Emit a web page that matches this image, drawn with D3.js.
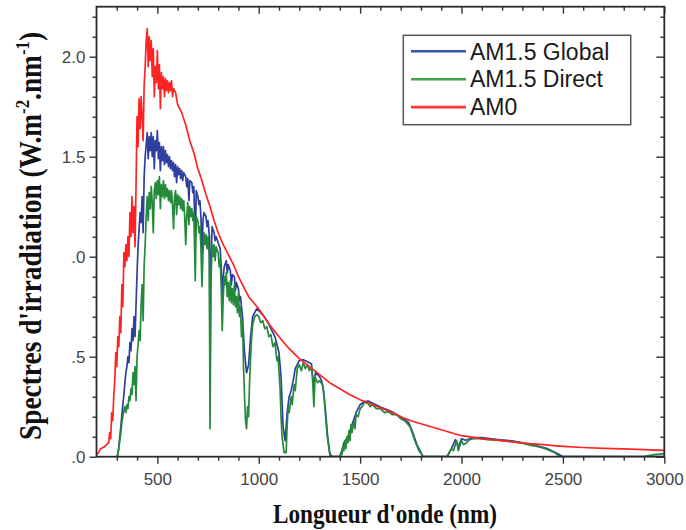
<!DOCTYPE html>
<html>
<head>
<meta charset="utf-8">
<script src="https://cdn.jsdelivr.net/npm/d3@7/dist/d3.min.js"></script>
<style>
  body { margin: 0; background: #fff; }
  svg { display: block; }
</style>
</head>
<body>
<div id="chart"></div>
<script>
// [wavelength nm, irradiance W.m-2.nm-1]
const am15Global = [
  [300,0],[305,0.01],[310,0.05],[315,0.1],[320,0.15],[325,0.21],[330,0.26],[335,0.31],[340,0.37],[345,0.42],
  [350,0.45],[355,0.5],[360,0.47],[365,0.57],[370,0.53],[375,0.64],[380,0.58],[385,0.7],[390,0.6],[395,0.76],
  [400,0.92],[405,1.05],[410,1.14],[415,1.22],[420,1.17],[425,1.3],[430,1.12],[435,1.4],[440,1.5],[445,1.56],
  [450,1.62],[455,1.49],[460,1.6],[465,1.53],[470,1.62],[475,1.5],[480,1.6],[485,1.44],[490,1.58],[495,1.53],
  [500,1.63],[505,1.49],[510,1.57],[515,1.43],[520,1.55],[525,1.48],[530,1.55],[535,1.46],[540,1.53],[545,1.47],
  [550,1.51],[555,1.45],[560,1.5],[565,1.44],[570,1.48],[575,1.43],[580,1.47],[585,1.4],[590,1.46],[595,1.37],
  [600,1.45],[605,1.41],[610,1.44],[615,1.39],[620,1.43],[625,1.38],[630,1.42],[640,1.4],[645,1.35],[650,1.39],
  [656,1.28],[660,1.38],[670,1.37],[675,1.32],[680,1.35],[687,1.08],[692,1.33],[700,1.3],[705,1.26],[710,1.28],
  [715,1.2],[720,1.0],[725,1.18],[730,1.22],[740,1.2],[745,1.15],[750,1.18],[757,1.1],[760,0.4],[764,0.95],
  [770,1.15],[780,1.12],[785,1.08],[790,1.1],[800,1.07],[810,1.04],[815,0.95],[820,0.8],[825,0.9],[830,0.95],
  [840,0.98],[845,0.92],[850,0.96],[860,0.93],[865,0.86],[870,0.91],[880,0.9],[885,0.83],[890,0.87],[900,0.84],
  [905,0.78],[910,0.8],[920,0.7],[930,0.52],[940,0.42],[950,0.46],[960,0.6],[970,0.7],[980,0.72],[990,0.74],
  [1000,0.73],[1020,0.71],[1040,0.68],[1060,0.64],[1080,0.6],[1100,0.52],[1110,0.4],[1120,0.15],[1130,0.08],[1140,0.22],
  [1150,0.3],[1160,0.33],[1170,0.38],[1180,0.44],[1190,0.46],[1200,0.48],[1220,0.485],[1240,0.475],[1260,0.465],[1270,0.35],
  [1280,0.42],[1290,0.41],[1300,0.4],[1310,0.38],[1320,0.33],[1330,0.22],[1340,0.1],[1350,0.02],[1360,0],[1400,0],
  [1410,0.03],[1420,0.07],[1440,0.1],[1460,0.16],[1480,0.22],[1500,0.26],[1520,0.275],[1540,0.278],[1560,0.268],[1600,0.248],
  [1650,0.228],[1700,0.2],[1740,0.17],[1760,0.12],[1780,0.06],[1800,0.02],[1810,0],[1930,0],[1950,0.04],[1970,0.085],
  [1985,0.05],[2000,0.09],[2020,0.082],[2060,0.096],[2100,0.095],[2180,0.086],[2250,0.079],[2340,0.062],[2420,0.042],[2480,0.012],
  [2500,0],[3000,0]
];

const am15Direct = [
  [300,0],[305,0.01],[310,0.04],[315,0.08],[320,0.12],[325,0.17],[330,0.2],[335,0.23],[340,0.25],[345,0.22],
  [350,0.26],[355,0.24],[360,0.3],[365,0.28],[370,0.34],[375,0.31],[380,0.42],[385,0.36],[390,0.45],[395,0.28],
  [400,0.5],[405,0.56],[410,0.63],[415,0.58],[420,0.76],[425,0.86],[430,0.68],[435,0.96],[440,1.06],[445,1.2],
  [450,1.3],[455,1.18],[460,1.32],[465,1.24],[470,1.35],[475,1.27],[480,1.12],[485,1.33],[490,1.37],[495,1.29],
  [500,1.38],[505,1.31],[510,1.4],[515,1.24],[520,1.36],[525,1.3],[530,1.38],[535,1.29],[540,1.36],[545,1.3],
  [550,1.34],[555,1.28],[560,1.33],[565,1.27],[570,1.33],[575,1.26],[580,1.14],[585,1.3],[590,1.33],[595,1.21],
  [600,1.31],[605,1.26],[610,1.3],[615,1.24],[620,1.29],[625,1.23],[630,1.28],[635,1.2],[640,1.06],[645,1.2],
  [650,1.27],[656,1.16],[660,1.25],[665,1.2],[670,1.24],[675,1.18],[680,1.22],[687,0.88],[692,1.2],[700,1.18],
  [705,1.12],[710,1.15],[715,1.05],[720,0.85],[725,1.02],[730,1.12],[735,1.06],[740,1.11],[745,1.04],[750,1.1],
  [756,1.0],[760,0.14],[764,0.85],[770,1.06],[775,1.0],[780,1.06],[785,0.98],[790,1.05],[800,1.02],[805,0.95],
  [810,0.99],[815,0.85],[820,0.63],[825,0.8],[830,0.9],[835,0.86],[840,0.92],[845,0.8],[850,0.87],[855,0.78],
  [860,0.88],[865,0.77],[870,0.84],[875,0.76],[880,0.86],[885,0.75],[890,0.8],[895,0.72],[900,0.82],[905,0.7],
  [910,0.75],[915,0.6],[920,0.68],[925,0.45],[930,0.3],[935,0.18],[940,0.14],[945,0.25],[950,0.2],[955,0.38],
  [960,0.5],[965,0.6],[970,0.66],[980,0.7],[990,0.71],[1000,0.7],[1010,0.67],[1020,0.68],[1030,0.64],[1040,0.65],
  [1050,0.6],[1060,0.61],[1070,0.55],[1080,0.57],[1090,0.48],[1095,0.5],[1105,0.35],[1110,0.2],[1115,0.1],[1125,0.02],
  [1135,0.02],[1140,0.15],[1145,0.25],[1150,0.22],[1160,0.3],[1165,0.26],[1175,0.36],[1180,0.33],[1190,0.44],[1200,0.46],
  [1210,0.43],[1220,0.47],[1230,0.44],[1240,0.46],[1250,0.43],[1260,0.45],[1265,0.4],[1272,0.25],[1278,0.4],[1290,0.37],
  [1300,0.38],[1315,0.36],[1322,0.3],[1330,0.2],[1338,0.1],[1345,0.05],[1352,0],[1400,0],[1405,0.02],[1410,0.01],
  [1415,0.05],[1420,0.03],[1425,0.08],[1430,0.04],[1435,0.1],[1440,0.07],[1445,0.13],[1450,0.08],[1455,0.16],[1460,0.12],
  [1470,0.18],[1475,0.14],[1480,0.21],[1490,0.2],[1500,0.24],[1510,0.25],[1520,0.27],[1530,0.27],[1540,0.265],[1550,0.25],
  [1560,0.26],[1580,0.24],[1600,0.24],[1620,0.22],[1640,0.225],[1660,0.21],[1680,0.21],[1700,0.19],[1720,0.18],[1746,0.15],
  [1760,0.11],[1770,0.08],[1790,0.03],[1812,0],[1927,0],[1950,0.04],[1960,0.03],[1976,0.08],[1984,0.03],[2000,0.08],
  [2010,0.06],[2025,0.07],[2040,0.085],[2058,0.09],[2091,0.09],[2130,0.085],[2173,0.083],[2255,0.075],[2300,0.068],[2337,0.058],
  [2380,0.05],[2420,0.037],[2460,0.02],[2486,0],[2900,0],[2950,0.01],[3000,0.015]
];

const am0 = [
  [200,0.01],[210,0.02],[220,0.04],[230,0.045],[240,0.05],[250,0.06],[260,0.07],[265,0.12],[270,0.09],[275,0.22],
  [280,0.18],[285,0.3],[290,0.38],[295,0.52],[300,0.45],[305,0.6],[310,0.55],[315,0.7],[320,0.62],[325,0.86],
  [330,0.75],[335,1.02],[340,0.95],[345,1.06],[350,0.98],[355,1.1],[360,1.0],[365,1.22],[370,1.1],[375,1.3],
  [380,1.12],[385,1.25],[390,1.05],[395,1.36],[400,1.7],[405,1.55],[410,1.79],[415,1.64],[420,1.8],[425,1.7],
  [430,1.58],[435,1.86],[440,1.95],[445,2.08],[450,2.14],[455,1.95],[460,2.1],[465,1.98],[470,2.08],[475,1.9],
  [480,2.04],[485,1.8],[490,1.95],[495,1.87],[500,2.03],[505,1.84],[510,1.96],[515,1.74],[520,1.92],[525,1.84],
  [530,1.9],[535,1.8],[540,1.89],[545,1.83],[550,1.88],[555,1.82],[560,1.87],[565,1.83],[570,1.88],[575,1.8],
  [580,1.84],[590,1.82],[600,1.76],[610,1.74],[620,1.72],[640,1.66],[660,1.58],[680,1.52],[700,1.44],[720,1.38],
  [740,1.31],[760,1.25],[780,1.18],[800,1.12],[820,1.07],[840,1.03],[860,0.99],[880,0.95],[900,0.9],[925,0.85],
  [950,0.8],[975,0.77],[1000,0.74],[1050,0.665],[1100,0.6],[1150,0.54],[1200,0.49],[1250,0.45],[1300,0.41],[1350,0.37],
  [1400,0.34],[1450,0.31],[1500,0.285],[1550,0.265],[1600,0.245],[1650,0.225],[1700,0.2],[1750,0.18],[1800,0.165],[1900,0.135],
  [2000,0.105],[2100,0.09],[2200,0.08],[2300,0.068],[2400,0.06],[2500,0.052],[2600,0.046],[2700,0.042],[2800,0.039],[2900,0.035],
  [3000,0.032]
];

const seriesNames = ['AM1.5 Global', 'AM1.5 Direct', 'AM0'];
const xTickValues = [500, 1000, 1500, 2000, 2500, 3000];
const yTickValues = [0, 0.5, 1, 1.5, 2];
// the left part of the lower labels is cut off in the picture
const yTickLabels = ['.0', '.5', '.0', '1.5', '2.0'];

/**
 * layout and styles
 */
const config = {
  width: 686,
  height: 530,
  left: 96.5,
  right: 664.3,
  top: 6.7,
  bottom: 456.7,
  colors: ['#2f3f9f', '#24893a', '#ff2424'],
  legend_colors: ['#3a52b2', '#3ea64b', '#ff3434'],
  stroke_width: 1.7,
  tick_font: '17px "Liberation Sans", Arial, sans-serif',
  title_font: 'bold 27px "Liberation Serif", "Times New Roman", serif'
};

const svg = d3.select('#chart').append('svg')
  .attr('width', config.width)
  .attr('height', config.height);

const x = d3.scaleLinear().domain([200, 3000]).range([config.left, config.right]);
const y = d3.scaleLinear().domain([0, 2.25]).range([config.bottom, config.top]);

svg.append('clipPath').attr('id', 'plot-clip')
  .append('rect')
  .attr('x', config.left).attr('y', config.top)
  .attr('width', config.right - config.left)
  .attr('height', config.bottom - config.top);

// spectra, drawn in legend order so AM0 ends on top
const line = d3.line()
  .x(d => x(d[0]))
  .y(d => y(d[1]));

const plot = svg.append('g').attr('clip-path', 'url(#plot-clip)');
[am15Global, am15Direct, am0].forEach((data, i) => {
  plot.append('path')
    .datum(data)
    .attr('fill', 'none')
    .attr('stroke', config.colors[i])
    .attr('stroke-width', config.stroke_width)
    .attr('stroke-linejoin', 'round')
    .attr('d', line);
});

// minor ticks between the labelled ones
const xMinor = d3.range(300, 3000, 100).filter(v => v % 500 !== 0);
const yMinor = d3.range(1, 23).map(v => v / 10).filter(v => Math.round(v * 10) % 5 !== 0);

function tickAxis(g, axis) {
  g.call(axis);
  g.select('.domain').remove();
  g.selectAll('.tick line').attr('stroke', '#333').attr('stroke-width', 1.4);
  return g;
}

const bottom = tickAxis(svg.append('g').attr('transform', `translate(0,${config.bottom})`),
  d3.axisBottom(x).tickValues(xTickValues).tickSize(7).tickFormat(d3.format('d')));
bottom.selectAll('text')
  .attr('y', 28).attr('dy', 0)
  .style('font', config.tick_font).attr('fill', '#444');
tickAxis(svg.append('g').attr('transform', `translate(0,${config.bottom})`),
  d3.axisBottom(x).tickValues(xMinor).tickSize(4).tickFormat(''));

// top edge: same ticks, hanging into the plot
tickAxis(svg.append('g').attr('transform', `translate(0,${config.top})`),
  d3.axisBottom(x).tickValues(xTickValues).tickSize(7).tickFormat(''));
tickAxis(svg.append('g').attr('transform', `translate(0,${config.top})`),
  d3.axisBottom(x).tickValues(xMinor).tickSize(4).tickFormat(''));

const left = tickAxis(svg.append('g').attr('transform', `translate(${config.left},0)`),
  d3.axisLeft(y).tickValues(yTickValues).tickSize(7).tickFormat((d, i) => yTickLabels[i]));
left.selectAll('text')
  .attr('x', -11)
  .style('font', config.tick_font).attr('fill', '#444');
tickAxis(svg.append('g').attr('transform', `translate(${config.left},0)`),
  d3.axisLeft(y).tickValues(yMinor).tickSize(4).tickFormat(''));

// right edge: ticks pointing into the plot
tickAxis(svg.append('g').attr('transform', `translate(${config.right},0)`),
  d3.axisLeft(y).tickValues(yTickValues).tickSize(8).tickFormat(''));
tickAxis(svg.append('g').attr('transform', `translate(${config.right},0)`),
  d3.axisLeft(y).tickValues(yMinor).tickSize(4).tickFormat(''));

// frame
svg.append('rect')
  .attr('x', config.left).attr('y', config.top)
  .attr('width', config.right - config.left)
  .attr('height', config.bottom - config.top)
  .attr('fill', 'none')
  .attr('stroke', '#2a2a2a')
  .attr('stroke-width', 1.8);

// axis titles
svg.append('text')
  .attr('x', 385).attr('y', 523)
  .attr('text-anchor', 'middle')
  .attr('textLength', 224)
  .attr('lengthAdjust', 'spacingAndGlyphs')
  .style('font', config.title_font)
  .attr('fill', '#111')
  .text("Longueur d'onde (nm)");

const yTitle = svg.append('text')
  .attr('transform', 'translate(41,236) rotate(-90)')
  .attr('text-anchor', 'middle')
  .attr('textLength', 408)
  .attr('lengthAdjust', 'spacingAndGlyphs')
  .style('font', 'bold 31px "Liberation Serif", "Times New Roman", serif')
  .attr('fill', '#111');
yTitle.append('tspan').text("Spectres d'irradiation (W.m");
yTitle.append('tspan').attr('dy', -12).style('font-size', '19px').text('-2');
yTitle.append('tspan').attr('dy', 12).text('.nm');
yTitle.append('tspan').attr('dy', -12).style('font-size', '19px').text('-1');
yTitle.append('tspan').attr('dy', 12).text(')');

// legend
const legend = svg.append('g');
legend.append('rect')
  .attr('x', 403.3).attr('y', 35.3)
  .attr('width', 227.4).attr('height', 89.4)
  .attr('fill', '#fff')
  .attr('stroke', '#555')
  .attr('stroke-width', 1.5);

const rows = legend.selectAll('g.row')
  .data(seriesNames)
  .enter().append('g')
  .attr('class', 'row')
  .attr('transform', (d, i) => `translate(0,${51.3 + i * 27.9})`);

rows.append('line')
  .attr('x1', 411).attr('x2', 466)
  .attr('stroke', (d, i) => config.legend_colors[i])
  .attr('stroke-width', 2.6);

rows.append('text')
  .attr('x', 470)
  .attr('dy', '0.36em')
  .style('font', '23px "Liberation Sans", Arial, sans-serif')
  .attr('fill', '#1a1a1a')
  .text(d => d);
</script>
</body>
</html>
